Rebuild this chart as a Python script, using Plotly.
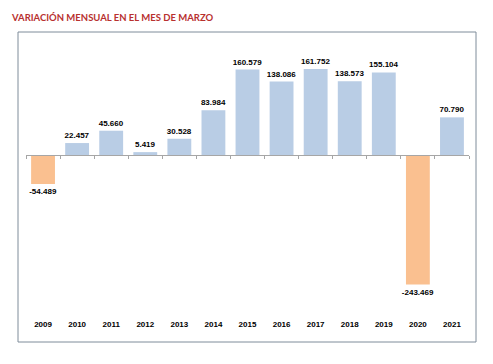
import plotly.graph_objects as go

years = ["2009", "2010", "2011", "2012", "2013", "2014", "2015", "2016", "2017", "2018", "2019", "2020", "2021"]
values = [-54.489, 22.457, 45.660, 5.419, 30.528, 83.984, 160.579, 138.086, 161.752, 138.573, 155.104, -243.469, 70.790]
labels = ["-54.489", "22.457", "45.660", "5.419", "30.528", "83.984", "160.579", "138.086", "161.752", "138.573", "155.104", "-243.469", "70.790"]

POS = "#B9CDE5"
NEG = "#FAC090"
colors = [POS if v >= 0 else NEG for v in values]
xs = list(range(len(years)))

# page body has an 8px default margin; work in reference pixel coords minus that offset
OFF = 8
W, H = 493 - OFF, 364 - OFF
plot_left, plot_right = 26 - OFF, 469 - OFF
plot_top, plot_bottom = 45 - OFF, 318 - OFF
L, R, T, B = plot_left, W - plot_right, plot_top, H - plot_bottom
ph = plot_bottom - plot_top
pw = plot_right - plot_left
zero_px = 155 - OFF
scale = 0.532
ymax = (zero_px - plot_top) / scale
ymin = -(plot_bottom - zero_px) / scale

fig = go.Figure()
fig.add_trace(go.Bar(
    x=xs, y=values, marker=dict(color=colors, line=dict(width=0)),
    text=labels, textposition="outside", cliponaxis=False, constraintext="none",
    textfont=dict(family="Liberation Sans", size=8, color="#000000", weight="bold"),
    width=0.7, hoverinfo="skip",
))
fig.add_trace(go.Scatter(x=[xs[0]], y=[0], xaxis="x2", mode="markers",
                         marker=dict(opacity=0), showlegend=False, hoverinfo="skip"))

zero_pos = (0 - ymin) / (ymax - ymin)

fig.update_layout(
    width=W, height=H,
    margin=dict(l=L, r=R, t=T, b=B),
    paper_bgcolor="white", plot_bgcolor="white",
    showlegend=False,
    uniformtext=dict(minsize=8, mode=False),
    title=dict(text="VARIACIÓN MENSUAL EN EL MES DE MARZO", x=(12 - OFF) / W, xanchor="left",
               y=1 - (18 - OFF) / H, yanchor="middle",
               font=dict(family="Lato", size=9.5, color="#B8312F", weight="bold")),
    xaxis=dict(range=[-0.5, len(years) - 0.5], tickmode="array", tickvals=xs, ticktext=years,
               showline=False, showgrid=False, zeroline=False, ticks="",
               tickfont=dict(family="Liberation Sans", size=8, color="#000000", weight="bold")),
    xaxis2=dict(range=[-0.5, len(years) - 0.5], overlaying="x", anchor="free", position=zero_pos,
                side="bottom", showline=True, linecolor="#A6A6A6", linewidth=1,
                tickmode="array", tickvals=[i - 0.5 for i in range(len(years) + 1)],
                ticks="outside", ticklen=3, tickcolor="#A6A6A6", showticklabels=False,
                showgrid=False, zeroline=False),
    yaxis=dict(range=[ymin, ymax], visible=False, showgrid=False, zeroline=False),
    shapes=[dict(type="rect", xref="paper", yref="paper",
                 x0=(18 - OFF - L) / pw, x1=(476 - OFF - L) / pw,
                 y0=(plot_bottom - (342 - OFF)) / ph, y1=(plot_bottom - (32 - OFF)) / ph,
                 line=dict(color="#7E8C9A", width=1), fillcolor="rgba(0,0,0,0)", layer="below")],
)

fig.write_html("out.html")
